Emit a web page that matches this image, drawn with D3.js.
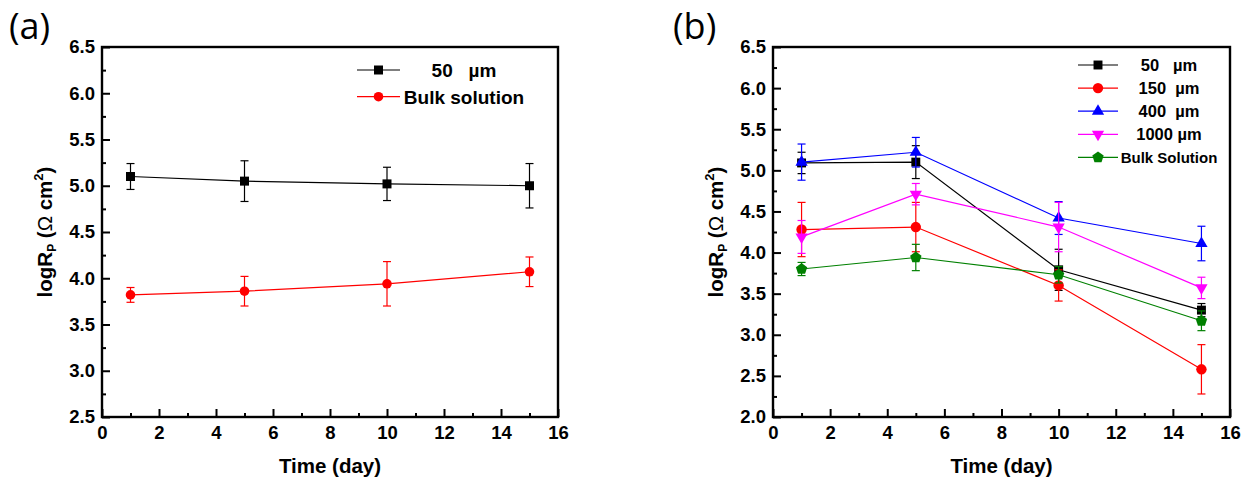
<!DOCTYPE html>
<html>
<head>
<meta charset="utf-8">
<script src="https://cdn.jsdelivr.net/npm/d3@7"></script>
<style>
  html, body { margin: 0; padding: 0; background: #fff; }
  svg { display: block; font-family: "Liberation Sans", Arial, sans-serif; }
</style>
</head>
<body>
<div id="chart"></div>
<script>
// shared x values (days)
const days = [1, 5, 10, 15];
const xMajorTicks = [0, 2, 4, 6, 8, 10, 12, 14, 16];
const xMinorTicks = [1, 3, 5, 7, 9, 11, 13, 15];

// panel (a)
const aNames = ['50   µm', 'Bulk solution'];
const a50 = [5.10, 5.05, 5.02, 5.00];
const a50Err = [0.14, 0.22, 0.18, 0.24];
const aBulk = [3.82, 3.86, 3.94, 4.07];
const aBulkErr = [0.08, 0.16, 0.24, 0.16];
const aYTicks = [2.5, 3.0, 3.5, 4.0, 4.5, 5.0, 5.5, 6.0, 6.5];

// panel (b)
const bNames = ['50   µm', '150  µm', '400  µm', '1000 µm', 'Bulk Solution'];
const b50 = [5.09, 5.10, 3.79, 3.30];
const b50Err = [0.13, 0.20, 0.25, 0.08];
const b150 = [4.28, 4.31, 3.60, 2.58];
const b150Err = [0.33, 0.30, 0.19, 0.30];
const b400 = [5.10, 5.22, 4.42, 4.11];
const b400Err = [0.22, 0.18, 0.20, 0.21];
const b1000 = [4.19, 4.71, 4.31, 3.57];
const b1000Err = [0.20, 0.13, 0.30, 0.13];
const bBulk = [3.80, 3.94, 3.73, 3.17];
const bBulkErr = [0.08, 0.16, 0.10, 0.12];
const bYTicks = [2.0, 2.5, 3.0, 3.5, 4.0, 4.5, 5.0, 5.5, 6.0, 6.5];

// pentagon marker (d3 has none)
const symbolPentagon = {
  draw(context, size) {
    const r = Math.sqrt(size / 2.378);
    for (let k = 0; k < 5; k++) {
      const a = -Math.PI / 2 + k * 2 * Math.PI / 5;
      if (k === 0) context.moveTo(r * Math.cos(a), r * Math.sin(a));
      else context.lineTo(r * Math.cos(a), r * Math.sin(a));
    }
    context.closePath();
  }
};

const svg = d3.select('#chart').append('svg')
  .attr('width', 1250)
  .attr('height', 483);

function drawMarker(g, shape, size, color, cx, cy) {
  const path = d3.symbol().type(shape.type).size(size)();
  g.append('path')
    .attr('d', path)
    .attr('fill', color)
    .attr('transform', `translate(${cx},${cy})` + (shape.flip ? ' rotate(180)' : ''));
}

function drawPanel(p) {
  const g = svg.append('g');
  const x = d3.scaleLinear().domain([0, 16]).range([p.left, p.right]);
  const y = d3.scaleLinear().domain(p.yDomain).range([p.bottom, p.top]);
  const yMinor = p.yTicks.slice(0, -1).map(v => v + 0.25);

  // x axis, ticks pointing inward
  g.append('g')
    .attr('transform', `translate(0,${p.bottom})`)
    .call(d3.axisBottom(x).tickValues(xMajorTicks).tickSize(-8).tickPadding(9).tickFormat(d3.format('d')))
    .call(a => a.select('.domain').remove())
    .call(a => a.selectAll('line').attr('stroke-width', 2))
    .call(a => a.selectAll('text').style('font-size', '18.5px').style('font-weight', 'bold').attr('fill', '#000'));
  g.append('g')
    .attr('transform', `translate(0,${p.bottom})`)
    .call(d3.axisBottom(x).tickValues(xMinorTicks).tickSize(-4).tickFormat(''))
    .call(a => a.select('.domain').remove())
    .call(a => a.selectAll('line').attr('stroke-width', 2));

  // y axis
  g.append('g')
    .attr('transform', `translate(${p.left},0)`)
    .call(d3.axisLeft(y).tickValues(p.yTicks).tickSize(-8).tickPadding(7).tickFormat(d3.format('.1f')))
    .call(a => a.select('.domain').remove())
    .call(a => a.selectAll('line').attr('stroke-width', 2))
    .call(a => a.selectAll('text').style('font-size', '18.5px').style('font-weight', 'bold').attr('fill', '#000'));
  g.append('g')
    .attr('transform', `translate(${p.left},0)`)
    .call(d3.axisLeft(y).tickValues(yMinor).tickSize(-4).tickFormat(''))
    .call(a => a.select('.domain').remove())
    .call(a => a.selectAll('line').attr('stroke-width', 2));

  // frame
  g.append('rect')
    .attr('x', p.left).attr('y', p.top)
    .attr('width', p.right - p.left).attr('height', p.bottom - p.top)
    .attr('fill', 'none').attr('stroke', '#000').attr('stroke-width', 2.4);

  // series
  const line = d3.line().x(d => x(d.t)).y(d => y(d.v));
  p.series.forEach(s => {
    const pts = days.map((t, i) => ({ t: t, v: s.values[i], e: s.errors[i] }));
    g.append('path')
      .datum(pts)
      .attr('d', line)
      .attr('fill', 'none')
      .attr('stroke', s.color)
      .attr('stroke-width', 1.2);
    pts.forEach(d => {
      const cx = x(d.t);
      g.append('line')
        .attr('x1', cx).attr('x2', cx)
        .attr('y1', y(d.v - d.e)).attr('y2', y(d.v + d.e))
        .attr('stroke', s.color).attr('stroke-width', 1.2);
      [d.v - d.e, d.v + d.e].forEach(v => {
        g.append('line')
          .attr('x1', cx - 4).attr('x2', cx + 4)
          .attr('y1', y(v)).attr('y2', y(v))
          .attr('stroke', s.color).attr('stroke-width', 1.2);
      });
      drawMarker(g, s.shape, s.size, s.color, cx, y(d.v));
    });
  });

  // legend
  p.series.forEach((s, i) => {
    const ly = p.legend.y + i * p.legend.step;
    g.append('line')
      .attr('x1', p.legend.x1).attr('x2', p.legend.x2)
      .attr('y1', ly).attr('y2', ly)
      .attr('stroke', s.color).attr('stroke-width', 1.2);
    drawMarker(g, s.shape, s.size, s.color, (p.legend.x1 + p.legend.x2) / 2, ly);
    g.append('text')
      .attr('x', p.legend.textX)
      .attr('y', ly + p.legend.fontSize * 0.36)
      .attr('text-anchor', 'middle')
      .attr('xml:space', 'preserve')
      .style('white-space', 'pre')
      .style('font-size', (s.fontSize || p.legend.fontSize) + 'px')
      .style('font-weight', 'bold')
      .text(s.name);
  });

  // axis titles
  g.append('text')
    .attr('x', (p.left + p.right) / 2)
    .attr('y', 473)
    .attr('text-anchor', 'middle')
    .style('font-size', '20.5px')
    .style('font-weight', 'bold')
    .text('Time (day)');

  const yt = g.append('text')
    .attr('transform', `translate(${p.left - 50},${(p.top + p.bottom) / 2}) rotate(-90)`)
    .attr('text-anchor', 'middle')
    .style('font-size', '20.5px')
    .style('font-weight', 'bold');
  yt.append('tspan').text('logR');
  yt.append('tspan').attr('dy', 4).style('font-size', '12px').text('P');
  yt.append('tspan').attr('dy', -4).text(' (');
  yt.append('tspan').style('font-weight', 'normal').text('Ω');
  yt.append('tspan').text(' cm');
  yt.append('tspan').attr('dy', -9).style('font-size', '13px').text('2');
  yt.append('tspan').attr('dy', 9).text(')');

  // panel letter
  g.append('text')
    .attr('x', p.labelX)
    .attr('y', 39)
    .style('font-family', '"Open Sans", "Noto Sans", sans-serif')
    .style('font-size', '36px')
    .style('font-weight', 500)
    .text(p.label);
}

const square = { type: d3.symbolSquare };
const circle = { type: d3.symbolCircle };
const triUp = { type: d3.symbolTriangle };
const triDown = { type: d3.symbolTriangle, flip: true };
const pentagon = { type: symbolPentagon };

drawPanel({
  label: '(a)', labelX: 9,
  left: 102, right: 558, top: 47, bottom: 417,
  yDomain: [2.5, 6.5], yTicks: aYTicks,
  legend: { x1: 357, x2: 400, textX: 464, y: 70, step: 26.7, fontSize: 19 },
  series: [
    { name: aNames[0], values: a50, errors: a50Err, color: '#000000', shape: square, size: 81 },
    { name: aNames[1], values: aBulk, errors: aBulkErr, color: '#ff0000', shape: circle, size: 72 }
  ]
});

drawPanel({
  label: '(b)', labelX: 673,
  left: 773, right: 1230, top: 47, bottom: 417,
  yDomain: [2.0, 6.5], yTicks: bYTicks,
  legend: { x1: 1078, x2: 1118, textX: 1169, y: 65, step: 23.1, fontSize: 16.5 },
  series: [
    { name: bNames[0], values: b50, errors: b50Err, color: '#000000', shape: square, size: 80 },
    { name: bNames[1], values: b150, errors: b150Err, color: '#ff0000', shape: circle, size: 85 },
    { name: bNames[2], values: b400, errors: b400Err, color: '#0000ff', shape: triUp, size: 65 },
    { name: bNames[3], values: b1000, errors: b1000Err, color: '#ff00ff', shape: triDown, size: 65 },
    { name: bNames[4], values: bBulk, errors: bBulkErr, color: '#008000', shape: pentagon, size: 85, fontSize: 15 }
  ]
});
</script>
</body>
</html>
